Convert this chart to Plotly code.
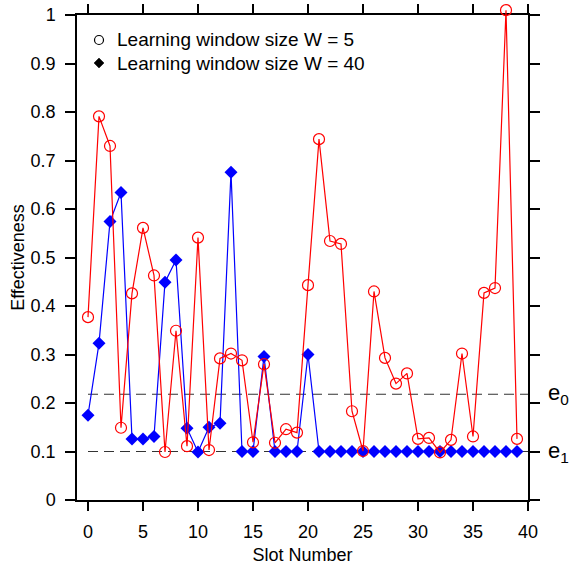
import plotly.graph_objects as go

slots = list(range(40))
w5 = [0.377, 0.791, 0.730, 0.149, 0.426, 0.561, 0.463, 0.099, 0.349, 0.111,
      0.541, 0.103, 0.292, 0.302, 0.288, 0.119, 0.280, 0.118, 0.146, 0.139,
      0.443, 0.744, 0.534, 0.528, 0.183, 0.101, 0.430, 0.293, 0.240, 0.261,
      0.126, 0.128, 0.098, 0.124, 0.302, 0.131, 0.427, 0.437, 1.010, 0.126]
w40 = [0.175, 0.323, 0.574, 0.634, 0.126, 0.126, 0.131, 0.449, 0.495, 0.148,
       0.099, 0.150, 0.158, 0.676, 0.100, 0.100, 0.296, 0.100, 0.100, 0.100,
       0.300, 0.100, 0.100, 0.100, 0.100, 0.100, 0.100, 0.100, 0.100, 0.100,
       0.100, 0.100, 0.100, 0.100, 0.100, 0.100, 0.100, 0.100, 0.100, 0.100]
e0 = 0.218
e1 = 0.100
x_ticks = [0, 5, 10, 15, 20, 25, 30, 35, 40]
y_ticks = [0, 0.1, 0.2, 0.3, 0.4, 0.5, 0.6, 0.7, 0.8, 0.9, 1]
y_tick_text = ["0", "0.1", "0.2", "0.3", "0.4", "0.5", "0.6", "0.7", "0.8", "0.9", "1"]
legend_labels = ["Learning window size W = 5", "Learning window size W = 40"]

font = "Liberation Sans, Arial, Helvetica, sans-serif"

# layout geometry: plot area 500 px tall; visible frame occupies lower 485 px
H_AREA = 500.0
H_FRAME = 485.0
dom_top = H_FRAME / H_AREA
y2_top = H_AREA / H_FRAME  # same pixel scale, extra headroom so the 1.01 point is kept

fig = go.Figure()

# threshold lines
for val in (e0, e1):
    fig.add_trace(go.Scatter(x=[0, 40], y=[val, val], mode="lines",
                             line=dict(color="#333333", width=1.2, dash="10px,6px"),
                             showlegend=False, hoverinfo="skip"))

fig.add_trace(go.Scatter(x=slots, y=w40, mode="lines+markers",
                         line=dict(color="#0000ff", width=1.2),
                         marker=dict(symbol="diamond", size=10, color="#0000ff"),
                         showlegend=False, cliponaxis=False))
fig.add_trace(go.Scatter(x=slots, y=w5, mode="lines+markers", yaxis="y2",
                         line=dict(color="#ff0000", width=1.2),
                         marker=dict(symbol="circle-open", size=11, color="#ff0000",
                                     line=dict(width=1.2)),
                         showlegend=False, cliponaxis=False))

# custom legend (black symbols + text)
leg_x_sym = 0.0488
leg_x_txt = 0.0843
leg_y = [(H_AREA - 40) / H_AREA, (H_AREA - 63) / H_AREA]
fig.add_shape(type="circle", xref="paper", yref="paper", xsizemode="pixel", ysizemode="pixel",
              xanchor=leg_x_sym, yanchor=leg_y[0], x0=-4.5, x1=4.5, y0=-4.5, y1=4.5,
              line=dict(color="black", width=1.2), fillcolor="rgba(0,0,0,0)")
fig.add_shape(type="path", xref="paper", yref="paper", xsizemode="pixel", ysizemode="pixel",
              xanchor=leg_x_sym, yanchor=leg_y[1], path="M0,-5L5,0L0,5L-5,0Z",
              line=dict(color="black", width=0.5), fillcolor="black")
for yy, lab in zip(leg_y, legend_labels):
    fig.add_annotation(x=leg_x_txt, y=yy, xref="paper", yref="paper", text=lab,
                       showarrow=False, xanchor="left", yanchor="middle",
                       font=dict(size=19, color="black", family=font))

for val, lab in ((e0, "e<sub>0</sub>"), (e1, "e<sub>1</sub>")):
    fig.add_annotation(x=1.04, xref="paper", y=val, yref="y", text=lab,
                       showarrow=False, xanchor="left", yanchor="middle",
                       font=dict(size=22, color="black", family=font))

axis_common = dict(showline=True, linecolor="black", linewidth=1.5, mirror="ticks",
                   ticks="outside", tickcolor="black", tickwidth=1.5,
                   showgrid=False, zeroline=False, automargin=False,
                   tickfont=dict(size=18, color="black", family=font))

fig.update_layout(
    width=569, height=568,
    margin=dict(l=77, r=41, t=0, b=68, autoexpand=False),
    paper_bgcolor="white", plot_bgcolor="rgba(0,0,0,0)",
    font=dict(family=font, color="black"),
    showlegend=False,
    xaxis=dict(range=[-1, 40], tickvals=x_ticks, ticklen=9, ticklabelstandoff=6,
               anchor="y",
               title=dict(text="Slot Number", font=dict(size=18, color="black", family=font),
                          standoff=7),
               **axis_common),
    yaxis=dict(range=[0, 1], domain=[0, dom_top], tickvals=y_ticks, ticktext=y_tick_text,
               ticklen=10, ticklabelstandoff=6, anchor="x",
               title=dict(text="Effectiveness", font=dict(size=18, color="black", family=font),
                          standoff=1),
               **axis_common),
    yaxis2=dict(range=[0, y2_top], domain=[0, 1], anchor="x", visible=False,
                showgrid=False, zeroline=False),
)

fig.write_html("out.html", config={"displayModeBar": False},
               post_script="document.body.style.margin='0';document.body.style.padding='0';")
